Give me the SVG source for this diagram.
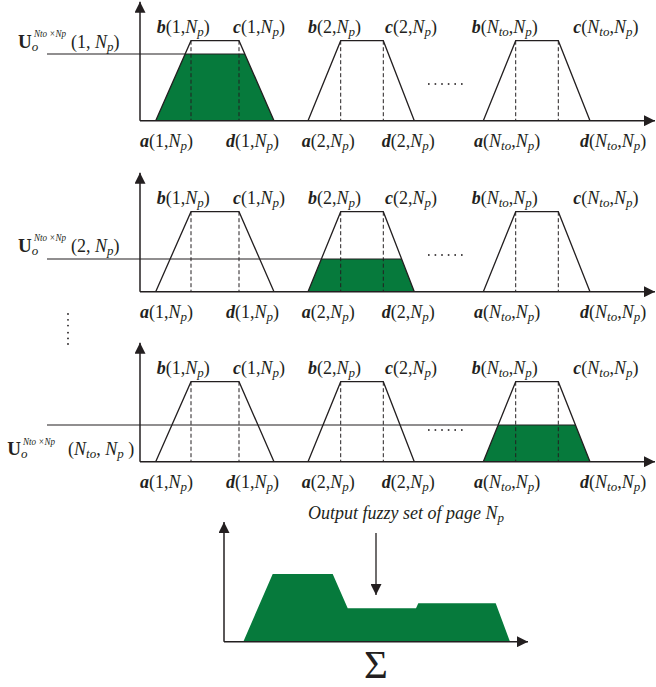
<svg xmlns="http://www.w3.org/2000/svg" width="656" height="687" viewBox="0 0 656 687">
<style>
text{font-family:"Liberation Serif","Times New Roman",serif;font-size:18px;fill:#231f20}
.bi{font-weight:bold;font-style:italic}
.i{font-style:italic}
.b{font-weight:bold}
.sub{font-size:13px}
.sup{font-size:11px;font-style:italic}
.ax{stroke:#231f20;stroke-width:1.5;fill:none}
.tr{stroke:#231f20;stroke-width:1.3;fill:none;stroke-linejoin:miter}
.da{stroke:#231f20;stroke-width:1;stroke-dasharray:4,2.5;fill:none}
.th{stroke:#231f20;stroke-width:1.1;fill:none}
.g{fill:#067a3c}
.dot{fill:#231f20}
</style>
<defs>
<marker id="ah" viewBox="0 0 10 10" refX="10" refY="5" markerWidth="11" markerHeight="11" markerUnits="userSpaceOnUse" orient="auto">
<path d="M0,0 L10,5 L0,10 z" fill="#231f20"/>
</marker>
<g id="traps">
<path class="tr" d="M155.7,0 L191,-80 L239,-80 L274,0"/>
<path class="da" d="M191,-80 V0 M239,-80 V0"/>
<path class="tr" d="M308,0 L340.7,-80 L383.3,-80 L414.3,0"/>
<path class="da" d="M340.7,-80 V0 M383.3,-80 V0"/>
<path class="tr" d="M483.3,0 L515.7,-80 L558.3,-80 L590,0"/>
<path class="da" d="M515.7,-80 V0 M558.3,-80 V0"/>
</g>
<g id="axes">
<line class="ax" x1="140" y1="0" x2="140" y2="-119" marker-end="url(#ah)"/>
<line class="ax" x1="140" y1="0" x2="655" y2="0" marker-end="url(#ah)"/>
</g>
<g id="dots6">
<rect x="428" y="-0.8" width="1.6" height="1.6"/>
<rect x="434.6" y="-0.8" width="1.6" height="1.6"/>
<rect x="441.2" y="-0.8" width="1.6" height="1.6"/>
<rect x="447.8" y="-0.8" width="1.6" height="1.6"/>
<rect x="454.4" y="-0.8" width="1.6" height="1.6"/>
<rect x="461" y="-0.8" width="1.6" height="1.6"/>
</g>
<g id="labels">
<text x="156.7" y="-87.5"><tspan class="bi">b</tspan>(1,<tspan class="i">N</tspan><tspan class="i sub" dy="3">p</tspan><tspan dy="-3">)</tspan></text>
<text x="233" y="-87.5"><tspan class="bi">c</tspan>(1,<tspan class="i">N</tspan><tspan class="i sub" dy="3">p</tspan><tspan dy="-3">)</tspan></text>
<text x="308" y="-87.5"><tspan class="bi">b</tspan>(2,<tspan class="i">N</tspan><tspan class="i sub" dy="3">p</tspan><tspan dy="-3">)</tspan></text>
<text x="385" y="-87.5"><tspan class="bi">c</tspan>(2,<tspan class="i">N</tspan><tspan class="i sub" dy="3">p</tspan><tspan dy="-3">)</tspan></text>
<text x="471.7" y="-87.5"><tspan class="bi">b</tspan>(<tspan class="i">N</tspan><tspan class="i sub" dy="3">to</tspan><tspan dy="-3">,</tspan><tspan class="i">N</tspan><tspan class="i sub" dy="3">p</tspan><tspan dy="-3">)</tspan></text>
<text x="573.3" y="-87.5"><tspan class="bi">c</tspan>(<tspan class="i">N</tspan><tspan class="i sub" dy="3">to</tspan><tspan dy="-3">,</tspan><tspan class="i">N</tspan><tspan class="i sub" dy="3">p</tspan><tspan dy="-3">)</tspan></text>
<text x="140" y="26"><tspan class="bi">a</tspan>(1,<tspan class="i">N</tspan><tspan class="i sub" dy="3">p</tspan><tspan dy="-3">)</tspan></text>
<text x="226" y="26"><tspan class="bi">d</tspan>(1,<tspan class="i">N</tspan><tspan class="i sub" dy="3">p</tspan><tspan dy="-3">)</tspan></text>
<text x="301.7" y="26"><tspan class="bi">a</tspan>(2,<tspan class="i">N</tspan><tspan class="i sub" dy="3">p</tspan><tspan dy="-3">)</tspan></text>
<text x="381.7" y="26"><tspan class="bi">d</tspan>(2,<tspan class="i">N</tspan><tspan class="i sub" dy="3">p</tspan><tspan dy="-3">)</tspan></text>
<text x="474" y="26"><tspan class="bi">a</tspan>(<tspan class="i">N</tspan><tspan class="i sub" dy="3">to</tspan><tspan dy="-3">,</tspan><tspan class="i">N</tspan><tspan class="i sub" dy="3">p</tspan><tspan dy="-3">)</tspan></text>
<text x="580" y="26"><tspan class="bi">d</tspan>(<tspan class="i">N</tspan><tspan class="i sub" dy="3">to</tspan><tspan dy="-3">,</tspan><tspan class="i">N</tspan><tspan class="i sub" dy="3">p</tspan><tspan dy="-3">)</tspan></text>
</g>
</defs>

<g id="panel1">
<polygon class="g" points="155.7,120.7 185.1,54 244.8,54 274,120.7"/>
<use href="#traps" transform="translate(0,120.7)"/>
<line class="th" x1="47" y1="54" x2="245" y2="54"/>
<use href="#axes" transform="translate(0,120.7)"/>
<use href="#labels" transform="translate(0,120.7)"/>
<use href="#dots6" class="dot" transform="translate(0,84)"/>
<text x="18" y="47.5" style="font-size:19px"><tspan class="b">U</tspan><tspan class="i sub" dy="3">o</tspan></text>
<text class="sup" x="34" y="37" textLength="32" lengthAdjust="spacingAndGlyphs">Nto ×Np</text>
<text x="71" y="47.5">(1, <tspan class="i">N</tspan><tspan class="i sub" dy="3">p</tspan><tspan dy="-3">)</tspan></text>
</g>

<g id="panel2">
<polygon class="g" points="308,291.7 321.4,259 401.6,259 414.3,291.7"/>
<use href="#traps" transform="translate(0,291.7)"/>
<line class="th" x1="47" y1="259" x2="402" y2="259"/>
<use href="#axes" transform="translate(0,291.7)"/>
<use href="#labels" transform="translate(0,291.7)"/>
<use href="#dots6" class="dot" transform="translate(0,255)"/>
<text x="18" y="251.7" style="font-size:19px"><tspan class="b">U</tspan><tspan class="i sub" dy="3">o</tspan></text>
<text class="sup" x="34" y="241.2" textLength="32" lengthAdjust="spacingAndGlyphs">Nto ×Np</text>
<text x="71" y="251.7">(2, <tspan class="i">N</tspan><tspan class="i sub" dy="3">p</tspan><tspan dy="-3">)</tspan></text>
</g>

<g id="vdots" class="dot">
<circle cx="68" cy="314" r="0.9"/>
<circle cx="68" cy="319.8" r="0.9"/>
<circle cx="68" cy="325.6" r="0.9"/>
<circle cx="68" cy="332.7" r="0.9"/>
<circle cx="68" cy="338.4" r="0.9"/>
<circle cx="68" cy="344" r="0.9"/>
</g>

<g id="panel3">
<polygon class="g" points="483.3,461.7 498.2,425 575.4,425 590,461.7"/>
<use href="#traps" transform="translate(0,461.7)"/>
<line class="th" x1="47" y1="425" x2="576" y2="425"/>
<use href="#axes" transform="translate(0,461.7)"/>
<use href="#labels" transform="translate(0,461.7)"/>
<use href="#dots6" class="dot" transform="translate(0,430)"/>
<text x="7.3" y="455" style="font-size:19px"><tspan class="b">U</tspan><tspan class="i sub" dy="3">o</tspan></text>
<text class="sup" x="23" y="444.5" textLength="32" lengthAdjust="spacingAndGlyphs">Nto ×Np</text>
<text x="68" y="455">(<tspan class="i">N</tspan><tspan class="i sub" dy="3">to</tspan><tspan dy="-3">, </tspan><tspan class="i">N</tspan><tspan class="i sub" dy="3">p</tspan><tspan dy="-3"> )</tspan></text>
</g>

<g id="sum">
<text class="i" x="308" y="518.5">Output fuzzy set of page <tspan>N</tspan><tspan class="sub" dy="3">p</tspan></text>
<polygon class="g" points="243.3,641.7 272.7,574 332.7,574 347.7,608.3 416,608.3 418.3,603.3 495.7,603.3 510,641.7"/>
<line class="ax" x1="224" y1="641.7" x2="224" y2="522" marker-end="url(#ah)"/>
<line class="ax" x1="224" y1="641.7" x2="528" y2="641.7" marker-end="url(#ah)"/>
<text x="376" y="677.5" text-anchor="middle" style="font-size:41px">Σ</text>
</g>

<g id="connectors">
<line x1="376" y1="533" x2="376" y2="595" stroke="#231f20" stroke-width="1.3" marker-end="url(#ah)"/>
</g>
</svg>
